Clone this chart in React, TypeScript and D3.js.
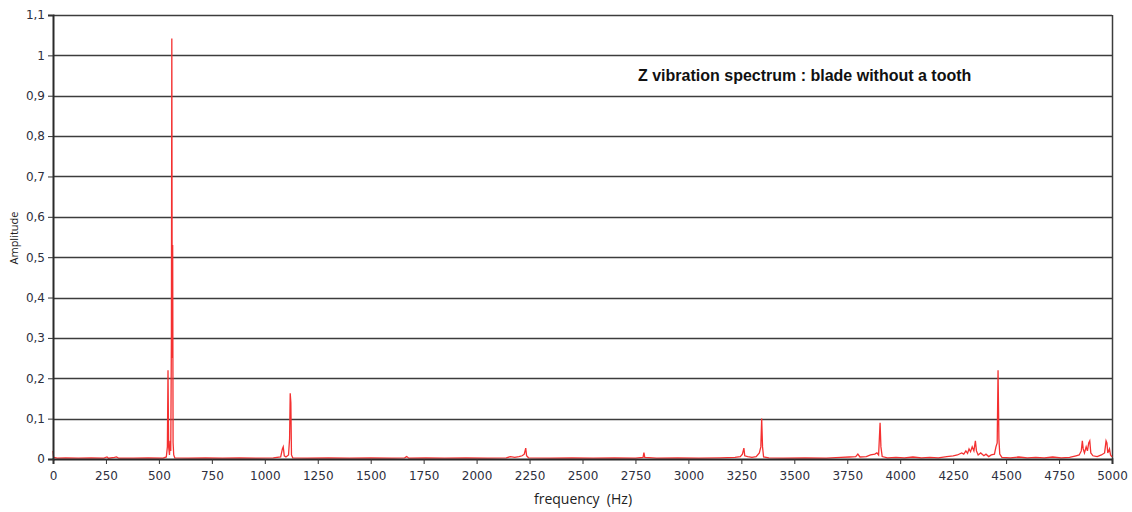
import * as d3 from "d3";
import React, { useEffect, useRef } from "react";

// frequency bins (Hz)
const freqHz = [
  0, 3, 20, 60, 120, 180, 240, 255, 262, 290, 300, 310, 380, 450, 520, 535,
  540, 543, 546, 550, 553, 556, 559, 561, 563, 565, 567, 570, 575, 640, 720,
  800, 880, 960, 1040, 1075, 1083, 1087, 1092, 1100, 1112, 1117, 1120, 1123,
  1126, 1132, 1200, 1300, 1400, 1500, 1600, 1660, 1670, 1680, 1760, 1850,
  1950, 2050, 2140, 2160, 2180, 2200, 2215, 2225, 2232, 2236, 2245, 2350,
  2450, 2550, 2650, 2750, 2786, 2790, 2794, 2850, 2950, 3050, 3150, 3220,
  3245, 3255, 3262, 3266, 3280, 3300, 3320, 3335, 3342, 3346, 3350, 3355,
  3380, 3450, 3550, 3650, 3720, 3760, 3790, 3800, 3810, 3840, 3860, 3880,
  3890, 3898, 3905, 3909, 3915, 3940, 3980, 4020, 4060, 4100, 4140, 4180,
  4220, 4250, 4270, 4290, 4300, 4310, 4318, 4325, 4332, 4340, 4348, 4355,
  4360, 4368, 4380, 4395, 4405, 4418, 4430, 4445, 4452, 4458, 4462, 4466,
  4470, 4480, 4520, 4560, 4600, 4640, 4680, 4720, 4760, 4800, 4830, 4845,
  4855, 4860, 4864, 4870, 4878, 4884, 4890, 4895, 4900, 4910, 4930, 4950,
  4965, 4972, 4976, 4980, 4988, 4993, 5000,
];

// amplitude at each bin
const amplitude = [
  0.02, 0.004, 0.002, 0.003, 0.002, 0.003, 0.002, 0.005, 0.002, 0.004, 0.005,
  0.002, 0.002, 0.003, 0.002, 0.005, 0.03, 0.22, 0.03, 0.01, 0.045, 0.02, 0.3,
  1.042, 0.25, 0.53, 0.04, 0.01, 0.003, 0.002, 0.003, 0.002, 0.003, 0.002,
  0.003, 0.005, 0.025, 0.03, 0.008, 0.005, 0.01, 0.05, 0.163, 0.14, 0.01,
  0.003, 0.002, 0.003, 0.002, 0.003, 0.002, 0.003, 0.006, 0.002, 0.003,
  0.002, 0.003, 0.002, 0.003, 0.006, 0.004, 0.006, 0.008, 0.012, 0.027,
  0.008, 0.003, 0.002, 0.003, 0.002, 0.003, 0.002, 0.004, 0.016, 0.004,
  0.002, 0.003, 0.002, 0.003, 0.004, 0.006, 0.012, 0.027, 0.008, 0.006,
  0.004, 0.006, 0.015, 0.03, 0.1, 0.03, 0.005, 0.003, 0.002, 0.003, 0.002,
  0.004, 0.005, 0.006, 0.012, 0.005, 0.006, 0.01, 0.012, 0.015, 0.01, 0.09,
  0.03, 0.006, 0.003, 0.004, 0.003, 0.005, 0.003, 0.004, 0.003, 0.006, 0.008,
  0.01, 0.015, 0.012, 0.02, 0.014, 0.025, 0.018, 0.03, 0.02, 0.045, 0.02,
  0.01, 0.015, 0.008, 0.012, 0.006, 0.01, 0.012, 0.03, 0.04, 0.22, 0.05,
  0.012, 0.004, 0.003, 0.005, 0.003, 0.004, 0.003, 0.005, 0.003, 0.004,
  0.008, 0.01, 0.02, 0.045, 0.025, 0.015, 0.03, 0.02, 0.04, 0.045, 0.015,
  0.008, 0.006, 0.01, 0.015, 0.045, 0.04, 0.015, 0.025, 0.01, 0.005,
];

const xTicks = [
  0, 250, 500, 750, 1000, 1250, 1500, 1750, 2000, 2250, 2500, 2750, 3000,
  3250, 3500, 3750, 4000, 4250, 4500, 4750, 5000,
];
const yTicks = [0, 0.1, 0.2, 0.3, 0.4, 0.5, 0.6, 0.7, 0.8, 0.9, 1, 1.1];

const title = "Z vibration spectrum : blade without a tooth";

const App = () => {
  const svgRef = useRef(null);

  useEffect(() => {
    const width = 1132;
    const height = 512;
    const left = 53;
    const right = 1112;
    const top = 15;
    const bottom = 459;

    const svg = d3.select(svgRef.current);
    svg.selectAll("*").remove();
    svg.attr("width", width).attr("height", height);

    const x = d3.scaleLinear().domain([0, 5000]).range([left, right]);
    const y = d3.scaleLinear().domain([0, 1.1]).range([bottom, top]);
    const fmt = (v) => d3.format("~g")(v).replace(".", ",");

    svg.append("rect").attr("width", width).attr("height", height).attr("fill", "#fff");

    // grille horizontale
    svg
      .append("g")
      .selectAll("line")
      .data(yTicks.filter((d) => d > 0))
      .join("line")
      .attr("x1", left)
      .attr("x2", right)
      .attr("y1", (d) => Math.round(y(d)) + 0.5)
      .attr("y2", (d) => Math.round(y(d)) + 0.5)
      .attr("stroke", "#3c3c3c")
      .attr("stroke-width", 1.5);

    // bordure droite
    svg
      .append("line")
      .attr("x1", right + 0.5)
      .attr("x2", right + 0.5)
      .attr("y1", top)
      .attr("y2", bottom)
      .attr("stroke", "#3c3c3c")
      .attr("stroke-width", 1.5);

    // spectre
    const pts = freqHz.map((f, i) => [f, amplitude[i]]);
    const line = d3
      .line()
      .x((d) => x(d[0]))
      .y((d) => y(d[1]));
    svg
      .append("path")
      .datum(pts)
      .attr("fill", "none")
      .attr("stroke", "#f43030")
      .attr("stroke-width", 1.3)
      .attr("d", line);

    // axe x
    const xAxis = svg
      .append("g")
      .attr("transform", `translate(0,${bottom})`)
      .call(d3.axisBottom(x).tickValues(xTicks).tickSize(5).tickPadding(7).tickFormat(fmt));
    xAxis.select(".domain").attr("stroke", "#2a2a2a").attr("stroke-width", 2);

    // axe y
    const yAxis = svg
      .append("g")
      .attr("transform", `translate(${left},0)`)
      .call(d3.axisLeft(y).tickValues(yTicks).tickSize(5).tickPadding(3).tickFormat(fmt));
    yAxis.select(".domain").attr("stroke", "#2a2a2a").attr("stroke-width", 2);

    svg
      .selectAll(".tick text")
      .attr("font-family", "DejaVu Sans")
      .attr("font-size", 12)
      .attr("fill", "#2e3040");
    svg.selectAll(".tick line").attr("stroke", "#333");

    svg
      .append("text")
      .attr("x", 583)
      .attr("y", 504)
      .attr("text-anchor", "middle")
      .attr("font-family", "Open Sans")
      .attr("font-size", 14)
      .attr("fill", "#222")
      .attr("xml:space", "preserve")
      .text("frequency  (Hz)");

    svg
      .append("text")
      .attr("transform", "translate(18,238) rotate(-90)")
      .attr("text-anchor", "middle")
      .attr("font-family", "Open Sans")
      .attr("font-size", 11)
      .attr("fill", "#222")
      .text("Amplitude");

    svg
      .append("text")
      .attr("x", 638)
      .attr("y", 81)
      .attr("font-family", "Liberation Sans")
      .attr("font-weight", "bold")
      .attr("font-size", 16)
      .attr("fill", "#111")
      .text(title);
  }, []);

  return (
    <div style={{ position: "absolute", left: 0, top: 0 }}>
      <svg ref={svgRef}></svg>
    </div>
  );
};

export default App;
